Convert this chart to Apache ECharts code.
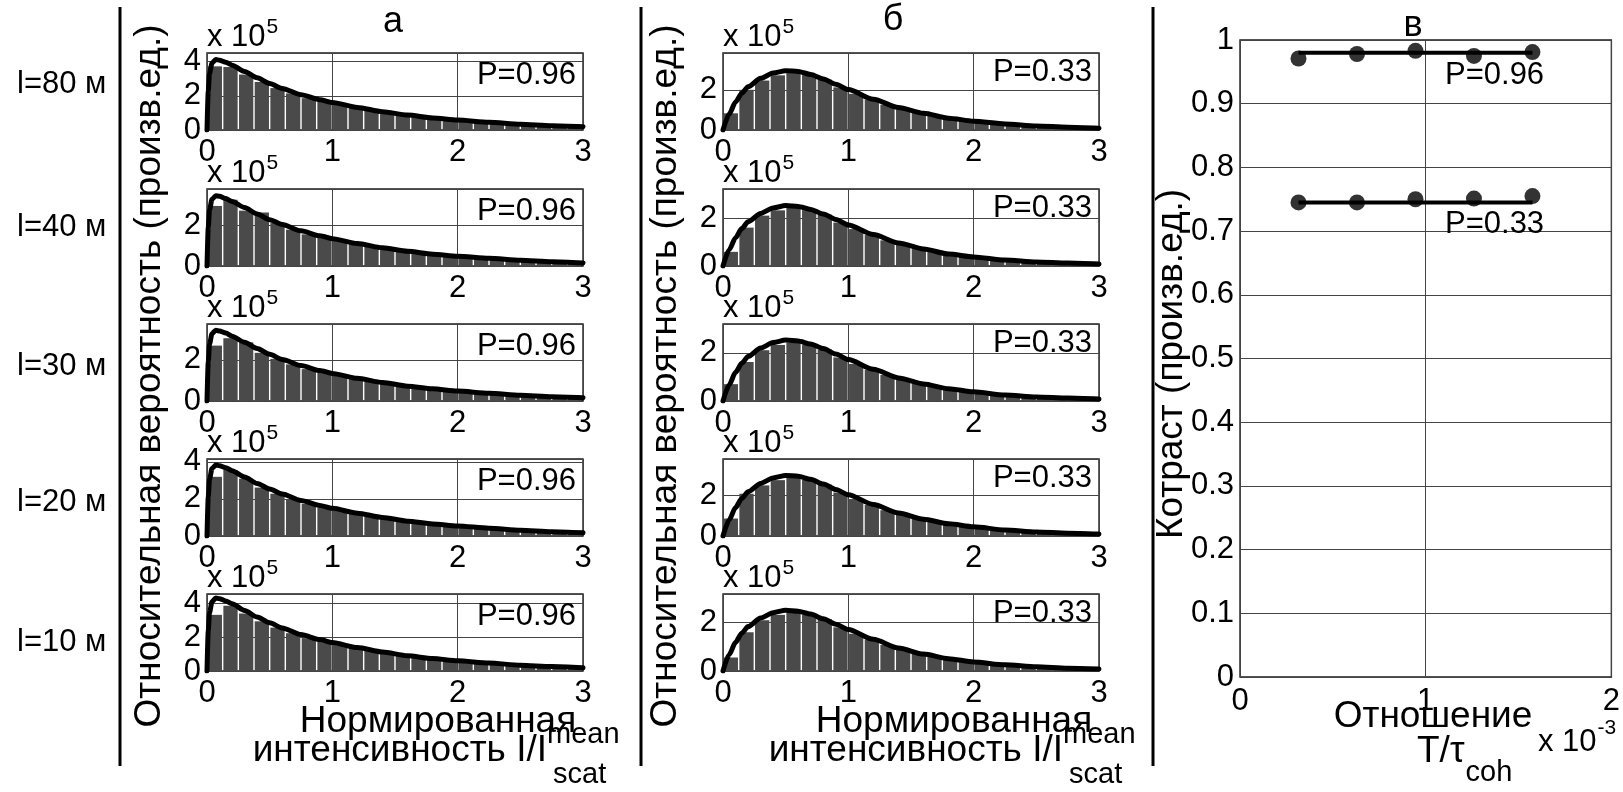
<!DOCTYPE html>
<html>
<head>
<meta charset="utf-8">
<script src="https://cdn.jsdelivr.net/npm/echarts@6/dist/echarts.min.js"></script>
<style>
  html, body { margin: 0; padding: 0; background: #fff; }
  #chart { width: 1623px; height: 792px; }
</style>
</head>
<body>
<div id="chart"></div>
<script>
// ---------- data ----------
// histogram bin edges, normalized intensity I / I_scat^mean
const binEdges = [0, 0.125, 0.25, 0.375, 0.5, 0.625, 0.75, 0.875, 1, 1.125, 1.25, 1.375, 1.5,
  1.625, 1.75, 1.875, 2, 2.125, 2.25, 2.375, 2.5, 2.625, 2.75, 2.875, 3];

const rowLabels = ['l=80 м', 'l=40 м', 'l=30 м', 'l=20 м', 'l=10 м'];
const panelTitles = ['а', 'б', 'в'];
const pLabels = ['P=0.96', 'P=0.33'];

// column а (P = 0.96), values in units of 10^5
const histA80 = [3.72, 3.68, 3.24, 2.81, 2.45, 2.14, 1.86, 1.64, 1.46, 1.29, 1.13, 0.99, 0.87, 0.77, 0.67, 0.59, 0.53, 0.45, 0.40, 0.35, 0.30, 0.26, 0.23, 0.20];
const histA40 = [2.94, 3.24, 2.71, 2.62, 2.10, 1.78, 1.55, 1.37, 1.22, 1.07, 0.94, 0.83, 0.73, 0.64, 0.56, 0.50, 0.44, 0.38, 0.33, 0.29, 0.25, 0.22, 0.19, 0.17];
const histA30 = [2.69, 3.05, 2.85, 2.34, 2.05, 1.78, 1.55, 1.37, 1.22, 1.07, 0.94, 0.83, 0.73, 0.64, 0.56, 0.50, 0.44, 0.38, 0.33, 0.29, 0.25, 0.22, 0.19, 0.17];
const histA20 = [3.19, 3.56, 3.09, 2.61, 2.28, 1.99, 1.73, 1.53, 1.36, 1.20, 1.05, 0.92, 0.81, 0.72, 0.63, 0.55, 0.49, 0.42, 0.37, 0.32, 0.28, 0.24, 0.21, 0.18];
const histA10 = [3.31, 3.85, 3.39, 2.93, 2.56, 2.23, 1.94, 1.71, 1.53, 1.34, 1.18, 1.03, 0.91, 0.81, 0.70, 0.62, 0.55, 0.47, 0.41, 0.36, 0.31, 0.27, 0.24, 0.21];

const curveXA = [0, 0.01, 0.02, 0.04, 0.07, 0.1, 0.15, 0.2, 0.3, 0.4, 0.5, 0.6, 0.75, 0.9, 1.0, 1.2, 1.4, 1.6, 1.8, 2.0, 2.25, 2.5, 2.75, 3.0];
const curveA80 = [0, 2.27, 3.30, 3.91, 4.12, 4.08, 3.96, 3.79, 3.42, 3.05, 2.72, 2.43, 2.06, 1.77, 1.61, 1.32, 1.07, 0.87, 0.70, 0.58, 0.45, 0.33, 0.25, 0.19];
const curveA40 = [0, 1.89, 2.75, 3.27, 3.44, 3.41, 3.30, 3.16, 2.86, 2.55, 2.27, 2.03, 1.72, 1.48, 1.34, 1.10, 0.89, 0.72, 0.58, 0.48, 0.38, 0.28, 0.21, 0.15];
const curveA30 = [0, 1.90, 2.76, 3.27, 3.44, 3.40, 3.30, 3.15, 2.85, 2.55, 2.27, 2.02, 1.72, 1.48, 1.34, 1.10, 0.90, 0.72, 0.59, 0.48, 0.38, 0.28, 0.21, 0.16];
const curveA20 = [0, 2.11, 3.06, 3.64, 3.83, 3.79, 3.68, 3.52, 3.18, 2.83, 2.53, 2.26, 1.92, 1.65, 1.49, 1.23, 1.00, 0.80, 0.65, 0.54, 0.42, 0.31, 0.23, 0.17];
const curveA10 = [0, 2.37, 3.44, 4.09, 4.30, 4.26, 4.13, 3.96, 3.57, 3.18, 2.84, 2.54, 2.15, 1.85, 1.68, 1.38, 1.12, 0.90, 0.73, 0.60, 0.47, 0.34, 0.26, 0.19];
const yMaxA = [4.5, 3.77, 3.74, 4.15, 4.54];

// column б (P = 0.33)
const histB80 = [0.83, 2.00, 2.46, 2.72, 2.83, 2.73, 2.50, 2.12, 1.80, 1.52, 1.26, 1.03, 0.86, 0.72, 0.56, 0.47, 0.39, 0.32, 0.26, 0.22, 0.18, 0.15, 0.12, 0.10];
const histB40 = [0.59, 1.60, 2.10, 2.32, 2.42, 2.33, 2.14, 1.81, 1.54, 1.29, 1.07, 0.88, 0.73, 0.61, 0.48, 0.40, 0.33, 0.27, 0.22, 0.19, 0.15, 0.12, 0.10, 0.09];
const histB30 = [0.70, 1.62, 2.11, 2.33, 2.43, 2.34, 2.14, 1.81, 1.54, 1.30, 1.08, 0.88, 0.74, 0.61, 0.48, 0.40, 0.34, 0.27, 0.23, 0.19, 0.15, 0.12, 0.10, 0.09];
const histB20 = [0.86, 2.08, 2.49, 2.75, 2.86, 2.76, 2.53, 2.14, 1.82, 1.53, 1.27, 1.04, 0.87, 0.72, 0.57, 0.48, 0.40, 0.32, 0.27, 0.22, 0.18, 0.15, 0.12, 0.10];
const histB10 = [0.55, 1.58, 2.07, 2.29, 2.39, 2.30, 2.11, 1.78, 1.52, 1.28, 1.06, 0.87, 0.72, 0.60, 0.47, 0.40, 0.33, 0.27, 0.22, 0.18, 0.15, 0.12, 0.10, 0.08];

const curveXB = [0, 0.05, 0.1, 0.15, 0.2, 0.3, 0.4, 0.5, 0.6, 0.7, 0.8, 0.9, 1.0, 1.2, 1.4, 1.6, 1.8, 2.0, 2.25, 2.5, 2.75, 3.0];
const curveB80 = [0, 0.80, 1.39, 1.83, 2.15, 2.57, 2.83, 2.95, 2.91, 2.76, 2.54, 2.27, 2.01, 1.53, 1.12, 0.83, 0.59, 0.44, 0.30, 0.20, 0.14, 0.09];
const curveB40 = [0, 0.68, 1.18, 1.56, 1.84, 2.19, 2.42, 2.52, 2.48, 2.36, 2.17, 1.94, 1.71, 1.31, 0.96, 0.71, 0.50, 0.38, 0.25, 0.17, 0.12, 0.08];
const curveB30 = [0, 0.68, 1.19, 1.57, 1.85, 2.20, 2.43, 2.53, 2.49, 2.37, 2.18, 1.95, 1.72, 1.32, 0.96, 0.71, 0.51, 0.38, 0.25, 0.17, 0.12, 0.08];
const curveB20 = [0, 0.80, 1.40, 1.85, 2.18, 2.59, 2.86, 2.98, 2.94, 2.79, 2.56, 2.29, 2.03, 1.55, 1.13, 0.83, 0.60, 0.45, 0.30, 0.20, 0.14, 0.10];
const curveB10 = [0, 0.67, 1.17, 1.54, 1.81, 2.16, 2.38, 2.48, 2.44, 2.32, 2.13, 1.91, 1.69, 1.29, 0.94, 0.69, 0.50, 0.37, 0.25, 0.17, 0.11, 0.08];
const yMaxB = [3.83, 3.21, 3.2, 3.79, 3.14];

// column в: contrast vs T / tau_coh (x 10^-3)
const ratioX = [0.315, 0.63, 0.945, 1.26, 1.575];
const contrast096 = [0.971, 0.978, 0.983, 0.975, 0.981];
const contrast033 = [0.745, 0.745, 0.750, 0.751, 0.755];
const contrastLevel = [0.98, 0.745];

// ---------- layout ----------
const FONT = '"Liberation Sans", Arial, Helvetica, sans-serif';
const rowTop = [53, 189, 324, 459, 594];
const rowH = 77;
const colLeft = [207, 723];
const colW = 376;
const BAR = '#4a4a4a';
const GRIDLINE = '#444';
const TICK = 31;

const histCols = [[histA80, histA40, histA30, histA20, histA10], [histB80, histB40, histB30, histB20, histB10]];
const curveCols = [[curveA80, curveA40, curveA30, curveA20, curveA10], [curveB80, curveB40, curveB30, curveB20, curveB10]];
const curveXCols = [curveXA, curveXB];
const yMaxCols = [yMaxA, yMaxB];

const mctx = document.createElement('canvas').getContext('2d');
function tw(text, size) { mctx.font = size + 'px ' + FONT; return mctx.measureText(text).width; }

function label(x, base, text, size, align) {
  return {
    type: 'text', x: x, y: base - 0.3465 * size, silent: true, z: 100,
    style: { text: text, fontSize: size, fontFamily: FONT, fill: '#000',
      align: align || 'left', textAlign: align || 'left', verticalAlign: 'middle', textVerticalAlign: 'middle' }
  };
}
function vlabel(x, y, text, size) {
  return {
    type: 'text', x: x, y: y, rotation: Math.PI / 2, silent: true, z: 100,
    style: { text: text, fontSize: size, fontFamily: FONT, fill: '#000',
      align: 'center', textAlign: 'center', verticalAlign: 'middle', textVerticalAlign: 'middle' }
  };
}

function renderBar(params, api) {
  const a = api.coord([api.value(0), api.value(2)]);
  const b = api.coord([api.value(1), 0]);
  return {
    type: 'rect',
    shape: { x: a[0] + 0.7, y: a[1], width: b[0] - a[0] - 1.4, height: b[1] - a[1] },
    style: { fill: BAR }
  };
}

const axisLabelStyle = { fontFamily: FONT, fontSize: TICK, color: '#000' };

const grids = [], xAxes = [], yAxes = [], series = [], graphics = [];

for (let c = 0; c < 2; c++) {
  for (let r = 0; r < 5; r++) {
    const gi = c * 5 + r;
    grids.push({ left: colLeft[c], top: rowTop[r], width: colW, height: rowH,
      show: true, borderColor: '#1e1e1e', borderWidth: 1.4, backgroundColor: 'transparent' });
    xAxes.push({ type: 'value', gridIndex: gi, min: 0, max: 3, interval: 1,
      axisLine: { show: false }, axisTick: { show: false },
      splitLine: { show: true, lineStyle: { color: GRIDLINE, width: 1 } },
      axisLabel: Object.assign({ margin: 7 }, axisLabelStyle) });
    yAxes.push({ type: 'value', gridIndex: gi, min: 0, max: yMaxCols[c][r], interval: 2,
      axisLine: { show: false }, axisTick: { show: false },
      splitLine: { show: true, lineStyle: { color: GRIDLINE, width: 1 } },
      axisLabel: Object.assign({ margin: 6, formatter: v => (Math.abs(v % 2) < 1e-9 ? String(v) : '') }, axisLabelStyle) });

    const h = histCols[c][r];
    series.push({
      type: 'custom', xAxisIndex: gi, yAxisIndex: gi, renderItem: renderBar, clip: true,
      encode: { x: [0, 1], y: 2 },
      data: h.map((v, i) => [binEdges[i], binEdges[i + 1], v]), z: 2
    });
    const cx = curveXCols[c], cy = curveCols[c][r];
    series.push({
      type: 'line', xAxisIndex: gi, yAxisIndex: gi, data: cx.map((x, i) => [x, cy[i]]),
      smooth: 0.25, smoothMonotone: 'x', symbol: 'none', clip: true, z: 5,
      lineStyle: { color: '#000', width: 5, join: 'round', cap: 'round' }
    });

    // multiplier above each box
    const mx = colLeft[c];
    graphics.push(label(mx, rowTop[r] - 5, 'x 10', TICK, 'left'));
    graphics.push(label(mx + tw('x 10', TICK) + 1, rowTop[r] - 19, '5', 21, 'left'));
    // contrast note inside each box
    graphics.push(label(colLeft[c] + colW - 7, rowTop[r] + (c === 0 ? 33 : 30), pLabels[c], TICK, 'right'));
  }
  // two-line x axis title
  graphics.push(label(colLeft[c] + 231, 735, 'Нормированная', 37, 'center'));
  graphics.push(label(colLeft[c] + 340, 764, 'интенсивность I/I', 37, 'right'));
  graphics.push(label(colLeft[c] + 340, 745, 'mean', 29, 'left'));
  graphics.push(label(colLeft[c] + 346, 785, 'scat', 29, 'left'));
}

// contrast panel
const gv = 10;
grids.push({ left: 1240, top: 40, width: 377, height: 637,
  show: true, borderColor: '#1e1e1e', borderWidth: 1.4, backgroundColor: 'transparent' });
xAxes.push({ type: 'value', gridIndex: gv, min: 0, max: 2, interval: 1,
  axisLine: { show: false }, axisTick: { show: false },
  splitLine: { show: true, lineStyle: { color: GRIDLINE, width: 1 } },
  axisLabel: Object.assign({ margin: 9 }, axisLabelStyle) });
yAxes.push({ type: 'value', gridIndex: gv, min: 0, max: 1, interval: 0.1,
  axisLine: { show: false }, axisTick: { show: false },
  splitLine: { show: true, lineStyle: { color: GRIDLINE, width: 1 } },
  axisLabel: Object.assign({ margin: 6 }, axisLabelStyle) });
[contrast096, contrast033].forEach((vals, k) => {
  series.push({
    type: 'line', xAxisIndex: gv, yAxisIndex: gv, symbol: 'none', z: 4,
    data: [[ratioX[0], contrastLevel[k]], [ratioX[ratioX.length - 1], contrastLevel[k]]],
    lineStyle: { color: '#000', width: 4 }
  });
  series.push({
    type: 'scatter', xAxisIndex: gv, yAxisIndex: gv, symbol: 'circle', symbolSize: 16, z: 5,
    itemStyle: { color: '#000' }, data: ratioX.map((x, i) => [x, vals[i]])
  });
});
graphics.push(label(1445, 86, pLabels[0], TICK, 'left'));
graphics.push(label(1445, 235, pLabels[1], TICK, 'left'));
graphics.push(label(1433, 730, 'Отношение', 37, 'center'));
graphics.push(label(1417, 765, 'T/τ', 37, 'left'));
graphics.push(label(1417 + tw('T/τ', 37) + 1, 783, 'coh', 29, 'left'));
graphics.push(label(1538, 753, 'x 10', TICK, 'left'));
graphics.push(label(1538 + tw('x 10', TICK) + 1, 735, '-3', 21, 'left'));

// panel titles
graphics.push(label(393, 35, panelTitles[0], 36, 'center'));
graphics.push(label(893, 33, panelTitles[1], 36, 'center'));
graphics.push(label(1413, 39, panelTitles[2], 36, 'center'));

// row names
const rowBase = [95, 238, 377, 513, 653];
rowLabels.forEach((t, i) => graphics.push(label(17, rowBase[i], t, TICK, 'left')));

// rotated y titles
graphics.push(vlabel(150, 376, 'Относительная вероятность (произв.ед.)', 37));
graphics.push(vlabel(666, 376, 'Относительная вероятность (произв.ед.)', 37));
graphics.push(vlabel(1172, 364, 'Котраст (произв.ед.)', 37));

// panel separators
[120, 641, 1153].forEach(x => graphics.push({
  type: 'line', silent: true, z: 100,
  shape: { x1: x, y1: 7, x2: x, y2: 766 },
  style: { stroke: '#000', lineWidth: 3 }
}));

const chart = echarts.init(document.getElementById('chart'), null, { renderer: 'canvas' });
chart.setOption({
  animation: false,
  backgroundColor: '#fff',
  grid: grids,
  xAxis: xAxes,
  yAxis: yAxes,
  series: series,
  graphic: { elements: graphics }
});
</script>
</body>
</html>
